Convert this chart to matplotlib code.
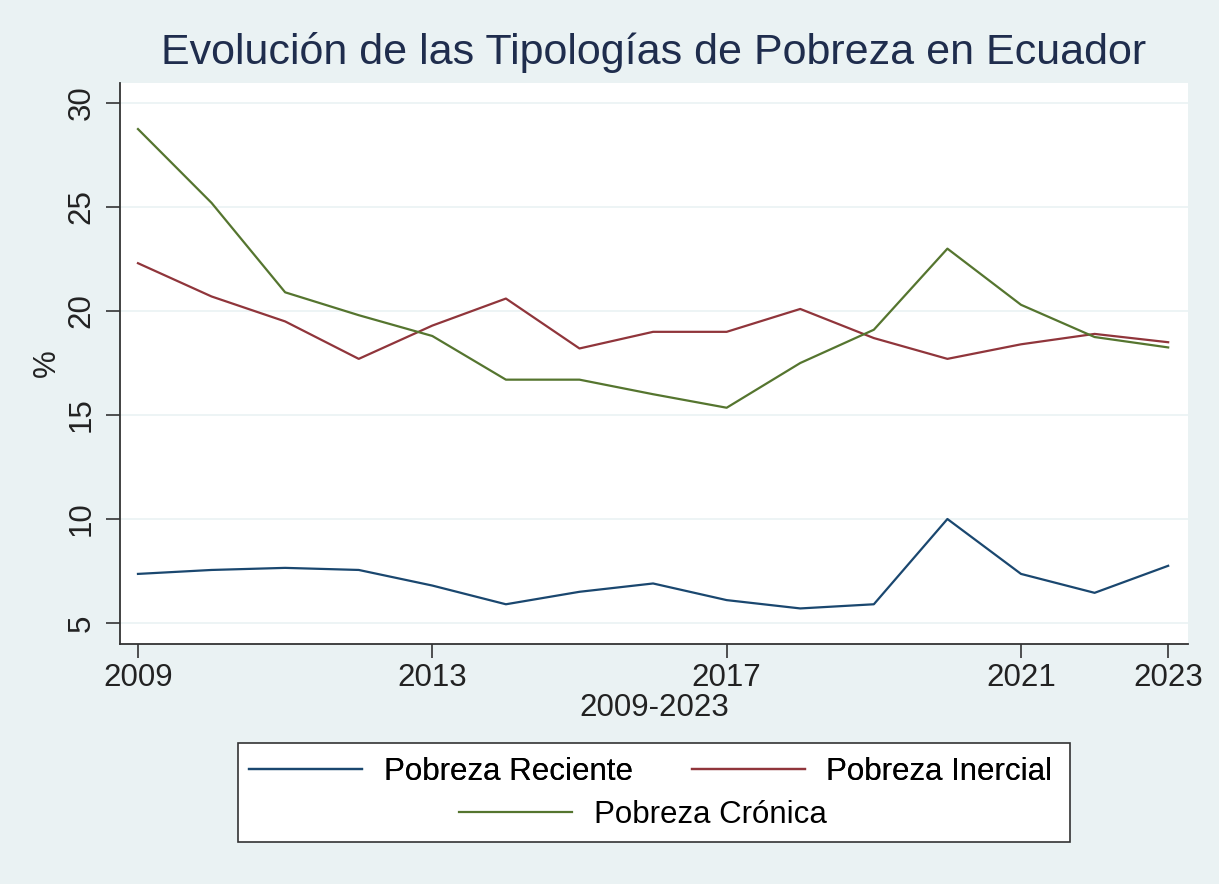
import matplotlib
matplotlib.use("Agg")
import matplotlib.pyplot as plt
from matplotlib.patches import Rectangle

years = list(range(2009, 2024))
reciente = [7.36, 7.55, 7.65, 7.55, 6.8, 5.9, 6.5, 6.9, 6.1, 5.7, 5.9, 10.0, 7.36, 6.45, 7.75]
inercial = [22.3, 20.7, 19.5, 17.7, 19.3, 20.6, 18.2, 19.0, 19.0, 20.1, 18.7, 17.7, 18.4, 18.9, 18.5]
cronica = [28.75, 25.2, 20.9, 19.8, 18.8, 16.7, 16.7, 16.0, 15.35, 17.5, 19.1, 23.0, 20.3, 18.75, 18.25]

series = ["Pobreza Reciente", "Pobreza Inercial", "Pobreza Crónica"]
colors = ["#1a476f", "#90353b", "#55752f"]
xticks = [2009, 2013, 2017, 2021, 2023]
yticks = [5, 10, 15, 20, 25, 30]

plt.rcParams["font.family"] = ["Liberation Sans", "DejaVu Sans"]
BG = "#eaf2f3"
FS = 22.5

fig = plt.figure(figsize=(12.19, 8.84), dpi=100, facecolor=BG)
ax = fig.add_axes([0.0984, 0.2715, 0.8762, 0.6345])
ax.set_facecolor("white")

lines = []
for vals, lab, c in zip([reciente, inercial, cronica], series, colors):
    ln, = ax.plot(years, vals, color=c, lw=1.6, label=lab)
    lines.append(ln)

ax.set_xlim(2008.755, 2023.27)
ax.set_ylim(3.99, 30.96)
ax.set_xticks(xticks)
ax.set_yticks(yticks)
ax.grid(axis="y", color=BG, lw=1.2)
ax.set_axisbelow(True)
for s in ["top", "right"]:
    ax.spines[s].set_visible(False)
for s in ["left", "bottom"]:
    ax.spines[s].set_color("#333333")
    ax.spines[s].set_linewidth(1.3)
ax.tick_params(axis="both", direction="out", length=10, width=1.2, color="#333333",
               labelsize=FS, labelcolor="#222222")
ax.tick_params(axis="x", pad=4)
ax.tick_params(axis="y", pad=7)
for t in ax.get_yticklabels():
    t.set_rotation(90)
    t.set_va("center")

ax.set_xlabel("2009-2023", fontsize=FS, color="#222222", labelpad=0)
ax.set_ylabel("%", fontsize=FS, color="#222222", labelpad=3)
ax.set_title("Evolución de las Tipologías de Pobreza en Ecuador", fontsize=31,
             color="#1f2d4d", pad=14)

# legend box
box = Rectangle((238 / 1219, 1 - 842 / 884), (1070 - 238) / 1219, 99 / 884,
                transform=fig.transFigure, facecolor="white", edgecolor="#333333", lw=1.2)
fig.add_artist(box)
leg_kw = dict(frameon=False, fontsize=FS, handlelength=3.6, handletextpad=0.7,
              borderpad=0, borderaxespad=0)
leg1 = fig.legend(lines[:2], series[:2], loc="center", bbox_to_anchor=(651 / 1219, 1 - 772 / 884),
                  ncol=2, columnspacing=1.9, **leg_kw)
leg2 = fig.legend(lines[2:], series[2:], loc="center", bbox_to_anchor=(643 / 1219, 1 - 815 / 884),
                  **leg_kw)
fig.add_artist(leg1)

fig.savefig("out.png", dpi=100, facecolor=BG)
